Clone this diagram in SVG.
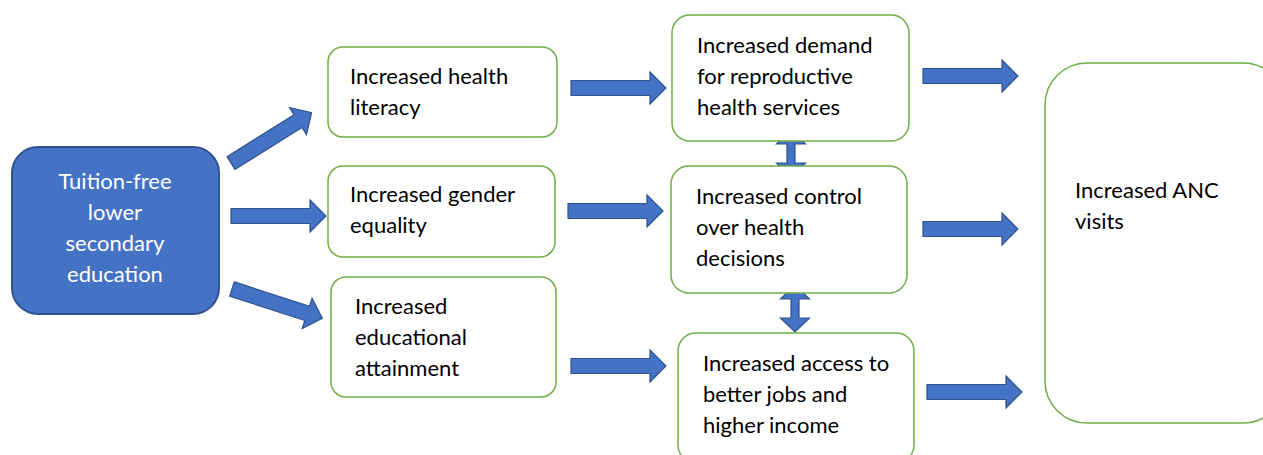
<svg xmlns="http://www.w3.org/2000/svg" width="1263" height="455" viewBox="0 0 1263 455">
<style>
.node{fill:#fff;stroke:#70AD47;stroke-width:1.5}
.src{fill:#4472C4;stroke:#2F528F;stroke-width:2}
.arr{fill:#4472C4;stroke:#2F528F;stroke-width:1.2;stroke-linejoin:miter}
text{font-family:Lato,"Liberation Sans",sans-serif;font-size:22px;fill:#000}
.w{fill:#fff;text-anchor:middle}
</style>
<defs>
<path id="ar" d="M0,-7.5 H79 V-16 L95,0 L79,16 V7.5 H0 Z"/>
</defs>
<rect width="1263" height="455" fill="#fff"/>
<g id="connectors">
<use href="#ar" class="arr" transform="translate(231,163) rotate(-32)"/>
<use href="#ar" class="arr" transform="translate(231,216)"/>
<use href="#ar" class="arr" transform="translate(232,289) rotate(18)"/>
<use href="#ar" class="arr" transform="translate(571,88)"/>
<use href="#ar" class="arr" transform="translate(568,211)"/>
<use href="#ar" class="arr" transform="translate(571,366)"/>
<use href="#ar" class="arr" transform="translate(923,76)"/>
<use href="#ar" class="arr" transform="translate(923,229)"/>
<use href="#ar" class="arr" transform="translate(927,392)"/>
<path class="arr" d="M791,130 L805.5,144 L795,144 L795,163 L805.5,163 L791,177 L776.5,163 L787,163 L787,144 L776.5,144 Z"/>
<path class="arr" d="M795,285 L809.5,299 L799,299 V318 L809.5,318 L795,332 L780.5,318 L791,318 V299 L780.5,299 Z"/>
</g>
<g id="n-source">
<rect class="src" x="12" y="147" width="207" height="167" rx="26"/>
<text class="w" x="115" y="189">Tuition-free</text>
<text class="w" x="115" y="220">lower</text>
<text class="w" x="115" y="251">secondary</text>
<text class="w" x="115" y="282">education</text>
</g>
<g id="n-literacy">
<rect class="node" x="328" y="47" width="229" height="90" rx="15"/>
<text x="350" y="84">Increased health</text>
<text x="350" y="115">literacy</text>
</g>
<g id="n-gender">
<rect class="node" x="328" y="166" width="227" height="91" rx="15"/>
<text x="350" y="202">Increased gender</text>
<text x="350" y="233">equality</text>
</g>
<g id="n-attainment">
<rect class="node" x="331" y="277" width="225" height="120" rx="15"/>
<text x="355" y="314">Increased</text>
<text x="355" y="345">educational</text>
<text x="355" y="376">attainment</text>
</g>
<g id="n-demand">
<rect class="node" x="672" y="15" width="237" height="126" rx="18"/>
<text x="697" y="53">Increased demand</text>
<text x="697" y="84">for reproductive</text>
<text x="697" y="115">health services</text>
</g>
<g id="n-control">
<rect class="node" x="671" y="166" width="236" height="127" rx="18"/>
<text x="696" y="204">Increased control</text>
<text x="696" y="235">over health</text>
<text x="696" y="266">decisions</text>
</g>
<g id="n-access">
<rect class="node" x="678" y="333" width="236" height="130" rx="18"/>
<text x="703" y="371">Increased access to</text>
<text x="703" y="402">better jobs and</text>
<text x="703" y="433">higher income</text>
</g>
<g id="n-anc">
<rect class="node" x="1045" y="63" width="240" height="360" rx="42"/>
<text x="1075" y="198">Increased ANC</text>
<text x="1075" y="229">visits</text>
</g>
</svg>
